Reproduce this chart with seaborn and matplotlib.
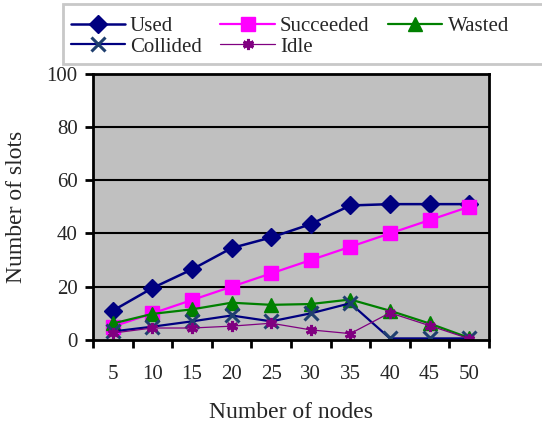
import matplotlib
matplotlib.use("Agg")
import matplotlib.pyplot as plt
from matplotlib.patches import Rectangle
import seaborn as sns
import numpy as np
import pandas as pd

nodes = ["5", "10", "15", "20", "25", "30", "35", "40", "45", "50"]
used = [11, 19.5, 26.5, 34.5, 38.5, 43.5, 50.5, 51, 51, 51]
succeeded = [5, 10, 15, 20, 25, 30, 35, 40, 45, 50]
wasted = [6.2, 9.8, 11.5, 14, 13.2, 13.5, 15.2, 11, 6.2, 0.8]
collided = [3.2, 5, 7, 9.2, 7, 10, 13.8, 0.6, 0.6, 0.6]
idle = [2.6, 4.5, 4.5, 5.2, 6.3, 3.8, 2.4, 10.2, 5.4, 0.5]
y_ticks = [0, 20, 40, 60, 80, 100]

sns.set_theme(style="white")
plt.rcParams['font.family'] = ['Liberation Serif', 'DejaVu Serif']
plt.rcParams['font.size'] = 15

W, H = 542, 425
fig = plt.figure(figsize=(W / 100, H / 100), dpi=100)
ax = fig.add_axes([0.1716, 0.2, 0.902 - 0.1716, 0.8268 - 0.2])
ax.set_facecolor('#C0C0C0')

series = [
    ("Used", used, dict(color='#000080', marker='D', markersize=9, linewidth=1.8)),
    ("Succeeded", succeeded, dict(color='#FF00FF', marker='s', markersize=10, linewidth=1.6)),
    ("Wasted", wasted, dict(color='#008000', marker='^', markersize=10, linewidth=1.6)),
    ("Collided", collided, dict(color='#000080', marker='x', markersize=10, linewidth=1.6,
                                markeredgecolor='#1F3F6F', markeredgewidth=2.2)),
    ("Idle", idle, dict(color='#800080', marker=(6, 2, 0), markersize=8, linewidth=0.9,
                        markeredgecolor='#800080', markeredgewidth=2.2)),
]

handles = {}
for name, vals, kw in series:
    df = pd.DataFrame({"nodes": nodes, "val": vals})
    n_before = len(ax.lines)
    sns.pointplot(data=df, x="nodes", y="val", order=nodes, errorbar=None, ax=ax,
                  color=kw['color'], marker=kw['marker'], markersize=kw['markersize'],
                  linewidth=kw['linewidth'],
                  markeredgecolor=kw.get('markeredgecolor', kw['color']),
                  markeredgewidth=kw.get('markeredgewidth', 1))
    handles[name] = ax.lines[n_before]

ax.set_xlim(-0.5, len(nodes) - 0.5)
ax.set_ylim(0, 100)
ax.set_yticks(y_ticks)
ax.set_yticklabels([str(t) for t in y_ticks])
for t in y_ticks[1:-1]:
    ax.axhline(t, color='black', linewidth=1.5, zorder=0.5)

ax.set_xticks(range(len(nodes)))
ax.set_xticklabels(nodes)
ax.set_xticks(np.arange(-0.5, len(nodes), 1.0), minor=True)
ax.tick_params(axis='x', which='major', length=0, pad=18, labelsize=15)
ax.tick_params(axis='x', which='minor', length=6, width=2, direction='out', color='black', bottom=True)
ax.tick_params(axis='y', which='major', length=6, width=2, direction='out', color='black', left=True, pad=5, labelsize=15)

for s in ax.spines.values():
    s.set_color('black')
    s.set_linewidth(2)

ax.set_xlabel("Number of nodes", fontsize=17, labelpad=13)
ax.set_ylabel("Number of slots", fontsize=17, labelpad=14)

# legend box (extends past the right edge, as in the reference)
fig.patches.append(Rectangle((63 / W, 1 - 64 / H), (560 - 63) / W, 60 / H,
                             transform=fig.transFigure, facecolor='white',
                             edgecolor='#C8C8C8', linewidth=2, zorder=0))

order = ["Used", "Collided", "Succeeded", "Idle", "Wasted"]
leg = fig.legend([handles[n] for n in order], order, ncol=3, loc='upper left',
                 bbox_to_anchor=(58 / W, 1 - 4 / H),
                 bbox_transform=fig.transFigure,
                 fontsize=15, frameon=False, handlelength=2.6,
                 handletextpad=0.25, columnspacing=0.9, labelspacing=0.05,
                 borderpad=0.6, borderaxespad=0)

fig.savefig("out.png", dpi=100)
